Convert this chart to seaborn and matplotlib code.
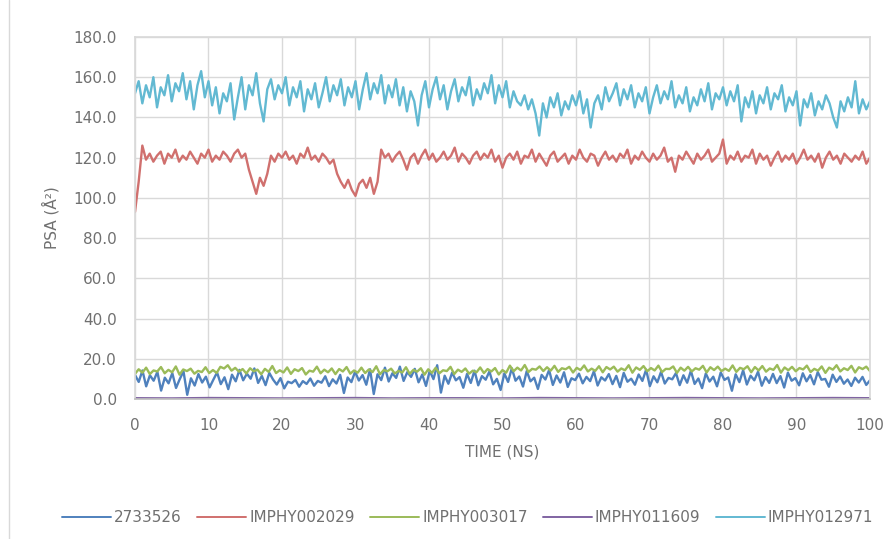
import numpy as np
import pandas as pd
import seaborn as sns
import matplotlib.pyplot as plt
from matplotlib.lines import Line2D

# series names and colours (Excel 2010 palette)
names = ['2733526', 'IMPHY002029', 'IMPHY003017', 'IMPHY011609', 'IMPHY012971']
colors = ['#4F81BD', '#D0706E', '#9BBB59', '#8064A2', '#62B9D2']

psa_2733526 = [
    12.0, 8.5, 14.2, 6.3, 11.8, 9.1, 13.5, 4.2, 10.6, 7.8, 12.9, 5.5, 9.9, 13.8, 2.1, 10.3,
    6.7, 12.4, 8.2, 11.1, 5.8, 9.6, 13.2, 7.4, 10.8, 4.9, 12.1, 8.8, 14.5, 9.3, 12.6, 10.1,
    15.2, 8.0, 11.5, 6.9, 13.0, 9.7, 7.2, 10.4, 5.3, 8.6, 7.9, 9.5, 6.1, 8.9, 7.5, 10.2,
    6.6, 9.0, 8.1, 11.3, 6.4, 9.8, 7.7, 12.0, 3.0, 10.7, 8.4, 13.6, 9.2, 11.9, 7.1, 14.8,
    2.5, 12.3, 9.4, 15.6, 8.7, 12.8, 10.5, 16.1, 9.0, 13.4, 11.0, 15.0, 8.3, 12.2, 6.5, 14.0,
    9.9, 16.8, 3.2, 11.6, 7.6, 13.1, 9.3, 10.9, 5.6, 12.5, 8.0, 14.1, 6.8, 11.4, 9.6, 13.7,
    7.3, 10.0, 4.5, 12.7, 8.5, 15.3, 9.1, 11.2, 6.2, 13.9, 8.8, 10.6, 5.0, 12.0, 9.7, 14.4,
    7.0, 11.7, 8.2, 13.3, 6.0, 10.3, 9.4, 12.6, 7.8, 11.0, 8.9, 13.8, 6.7, 10.8, 9.2, 12.4,
    7.4, 11.5, 5.9, 13.0, 8.6, 10.1, 7.1, 12.2, 9.0, 14.6, 6.4, 11.3, 8.3, 13.5, 7.7, 10.5,
    9.8, 12.9, 6.9, 11.8, 8.1, 14.0, 7.5, 10.2, 5.4, 12.7, 8.7, 11.1, 6.3, 13.2, 9.5, 10.7,
    4.1, 12.3, 8.4, 14.3, 7.2, 11.6, 9.3, 13.6, 6.6, 10.9, 8.0, 12.5, 7.9, 11.4, 5.7, 13.1,
    9.1, 10.4, 6.8, 12.8, 8.8, 11.9, 7.3, 13.4, 9.6, 10.0, 6.1, 12.1, 8.5, 11.2, 7.6, 9.7,
    6.5, 10.6, 8.2, 11.0, 7.0, 9.3,
]

psa_imphy002029 = [
    93, 108, 126, 119, 122, 118, 121, 123, 117, 122, 120, 124, 118, 121, 119, 123,
    120, 117, 122, 120, 124, 118, 121, 119, 123, 121, 118, 122, 124, 120, 122,
    114, 108, 102, 110, 106, 112,
    121, 118, 122, 120, 123, 119, 121, 117, 122, 120, 125, 119, 121, 118, 122, 120, 117, 119,
    112, 108, 105, 109, 104, 101, 107, 109, 105, 110, 102, 108,
    124, 120, 122, 118, 121, 123, 119, 114, 120, 122, 117, 121, 124, 119, 122, 118,
    120, 123, 119, 121, 125, 118, 122, 120, 117, 121, 123, 119, 122, 120, 124, 118,
    121, 115, 120, 122, 119, 123, 117, 121, 120, 124, 118, 122, 119, 116, 121, 123,
    118, 120, 122, 117, 121, 119, 124, 120, 118, 122, 121, 116, 120, 123, 119, 121,
    118, 122, 120, 124, 117, 121, 119, 123, 120, 118, 122, 119, 121, 125, 118, 120,
    113, 121, 119, 123, 120, 117, 122, 119, 121, 124, 118, 120, 122, 129, 117, 121,
    119, 123, 118, 121, 120, 124, 117, 122, 119, 121, 116, 120, 123, 118, 121, 119,
    122, 117, 120, 124, 119, 121, 118, 122, 115, 120, 123, 119, 121, 117, 122, 120,
    118, 121, 119, 123, 117, 120,
]

psa_imphy003017 = [
    12.5, 14.8, 13.1, 15.6, 12.4, 14.2, 13.7, 15.9, 12.8, 14.5, 13.3, 16.2, 12.1, 14.7, 13.9, 15.1,
    12.6, 14.0, 13.4, 15.8, 12.9, 14.4, 13.0, 16.0, 15.2, 16.8, 14.1, 15.5, 13.6, 14.9, 12.7, 15.3,
    13.8, 14.6, 12.3, 15.0, 13.5, 16.4, 12.9, 14.3, 13.2, 15.7, 12.5, 14.8, 13.9, 15.4, 12.2, 14.1,
    13.6, 16.1, 12.8, 14.6, 13.3, 15.2, 12.4, 14.9, 13.7, 15.9, 12.6, 14.2, 13.1, 15.6, 12.9, 14.7,
    13.4, 16.3, 12.3, 14.4, 13.8, 15.1, 12.7, 14.0, 13.2, 15.8, 12.5, 14.5, 13.6, 15.3, 12.1, 14.8,
    13.0, 15.5, 12.8, 14.3, 13.9, 16.0, 12.4, 14.6, 13.5, 15.2, 12.6, 14.1, 13.3, 15.7, 12.9, 14.9,
    13.7, 15.4, 12.2, 14.4, 13.1, 16.6, 13.8, 15.6, 14.2, 16.9, 13.4, 15.0, 14.6, 16.2, 13.9, 15.8,
    14.1, 16.5, 13.5, 15.3, 14.8, 16.0, 13.2, 15.5, 14.4, 16.7, 13.7, 15.1, 14.0, 16.3, 13.3, 15.9,
    14.7, 16.1, 13.6, 15.2, 14.3, 16.8, 13.1, 15.7, 14.5, 16.4, 13.8, 15.4, 14.2, 16.6, 13.4, 15.0,
    14.9, 16.2, 13.0, 15.6, 14.1, 16.0, 13.7, 15.3, 14.6, 16.5, 13.2, 15.8, 14.4, 16.1, 13.9, 15.1,
    14.0, 16.7, 13.5, 15.5, 14.8, 16.3, 13.3, 15.9, 14.2, 16.4, 13.6, 15.2, 14.5, 16.9, 13.1, 15.7,
    14.3, 16.0, 13.8, 15.4, 14.7, 16.6, 13.4, 15.0, 14.1, 16.2, 13.0, 15.6, 14.6, 16.8, 13.7, 15.3,
    14.4, 16.5, 13.2, 15.8, 14.9, 16.1, 13.9,
]

# nearly flat line at the bottom, sampled every 5 ns
psa_imphy011609 = [0.4, 0.3, 0.5, 0.4, 0.3, 0.4, 0.5, 0.3, 0.4, 0.4, 0.3,
                   0.5, 0.4, 0.3, 0.4, 0.5, 0.4, 0.3, 0.4, 0.5, 0.4]

psa_imphy012971 = [
    152, 158, 147, 156, 150, 160, 145, 155, 151, 161, 148, 157, 153, 162, 149, 158,
    144, 156, 163, 150, 158, 146, 155, 142, 152, 148, 157, 139, 150, 160, 144, 156,
    151, 162, 147, 138, 154, 159, 149, 156, 152, 160, 146, 155, 150, 158, 143, 154,
    149, 157, 145, 152, 160, 148, 156, 151, 159, 146, 155, 150, 158, 144, 154, 162,
    149, 157, 152, 161, 147, 156, 150, 159, 146, 155, 143, 153, 148, 136, 151, 158,
    145, 154, 160, 149, 156, 144, 153, 159, 148, 155, 151, 160, 146, 154, 149, 157,
    152, 161, 147, 156, 150, 158, 145, 153, 148, 146, 151, 144, 149, 142, 131, 147,
    140, 150, 145, 152, 141, 148, 144, 151, 146, 153, 142, 149, 135, 147, 151, 144,
    155, 148, 152, 157, 146, 154, 149, 156, 145, 152, 148, 155, 142, 150, 156, 147,
    153, 149, 158, 145, 151, 147, 155, 143, 150, 146, 154, 148, 157, 144, 152, 149,
    155, 146, 153, 148, 156, 138, 150, 145, 153, 142, 151, 147, 155, 144, 152, 149,
    156, 143, 150, 146, 153, 136, 149, 145, 152, 141, 148, 144, 151, 147, 140, 135,
    148, 143, 150, 145, 158, 142, 149, 144, 148,
]

series = [psa_2733526, psa_imphy002029, psa_imphy003017, psa_imphy011609, psa_imphy012971]

# long table for seaborn
frames = []
for name, vals in zip(names, series):
    frames.append(pd.DataFrame({
        'time': np.linspace(0, 100, len(vals)),
        'psa': vals,
        'compound': name,
    }))
df = pd.concat(frames, ignore_index=True)

sns.set_theme(style='white')
plt.rcParams['font.family'] = ['DejaVu Sans']
txt = '#707070'
grid = '#D9D9D9'

fig = plt.figure(figsize=(8.91, 5.39), dpi=100)
ax = fig.add_axes([0.1515, 0.2597, 0.8249, 0.6717])

sns.lineplot(data=df, x='time', y='psa', hue='compound', hue_order=names,
             palette=colors, sort=False, linewidth=1.7, ax=ax, legend=False)

ax.set_xlim(0, 100)
ax.set_ylim(0, 180)
ax.set_xticks(np.arange(0, 101, 10))
ax.set_yticks(np.arange(0, 181, 20))
ax.set_yticklabels([f'{v:.1f}' for v in np.arange(0, 181, 20)])
ax.grid(True, color=grid, linewidth=1)
ax.set_axisbelow(True)
for s in ax.spines.values():
    s.set_color(grid)
ax.spines['bottom'].set_color('#BFBFBF')
ax.tick_params(axis='both', length=0, labelsize=11, colors=txt)
ax.tick_params(axis='x', pad=14)
ax.tick_params(axis='y', pad=13)
ax.set_xlabel('TIME (NS)', fontsize=11, color=txt, labelpad=8)
ax.set_ylabel('PSA (Å²)', fontsize=11, color=txt, labelpad=10)

handles = [Line2D([0], [0], color=c, lw=1.4) for c in colors]
leg = fig.legend(handles, names, loc='center', bbox_to_anchor=(0.525, 0.039), ncol=5,
                 frameon=False, fontsize=11, handlelength=3.2, handletextpad=0.2,
                 columnspacing=1.0)
for t in leg.get_texts():
    t.set_color(txt)

# outer chart border on the left
fig.add_artist(Line2D([0.010, 0.010], [0, 1], color=grid, lw=1, transform=fig.transFigure))

fig.savefig('out.png', dpi=100)
